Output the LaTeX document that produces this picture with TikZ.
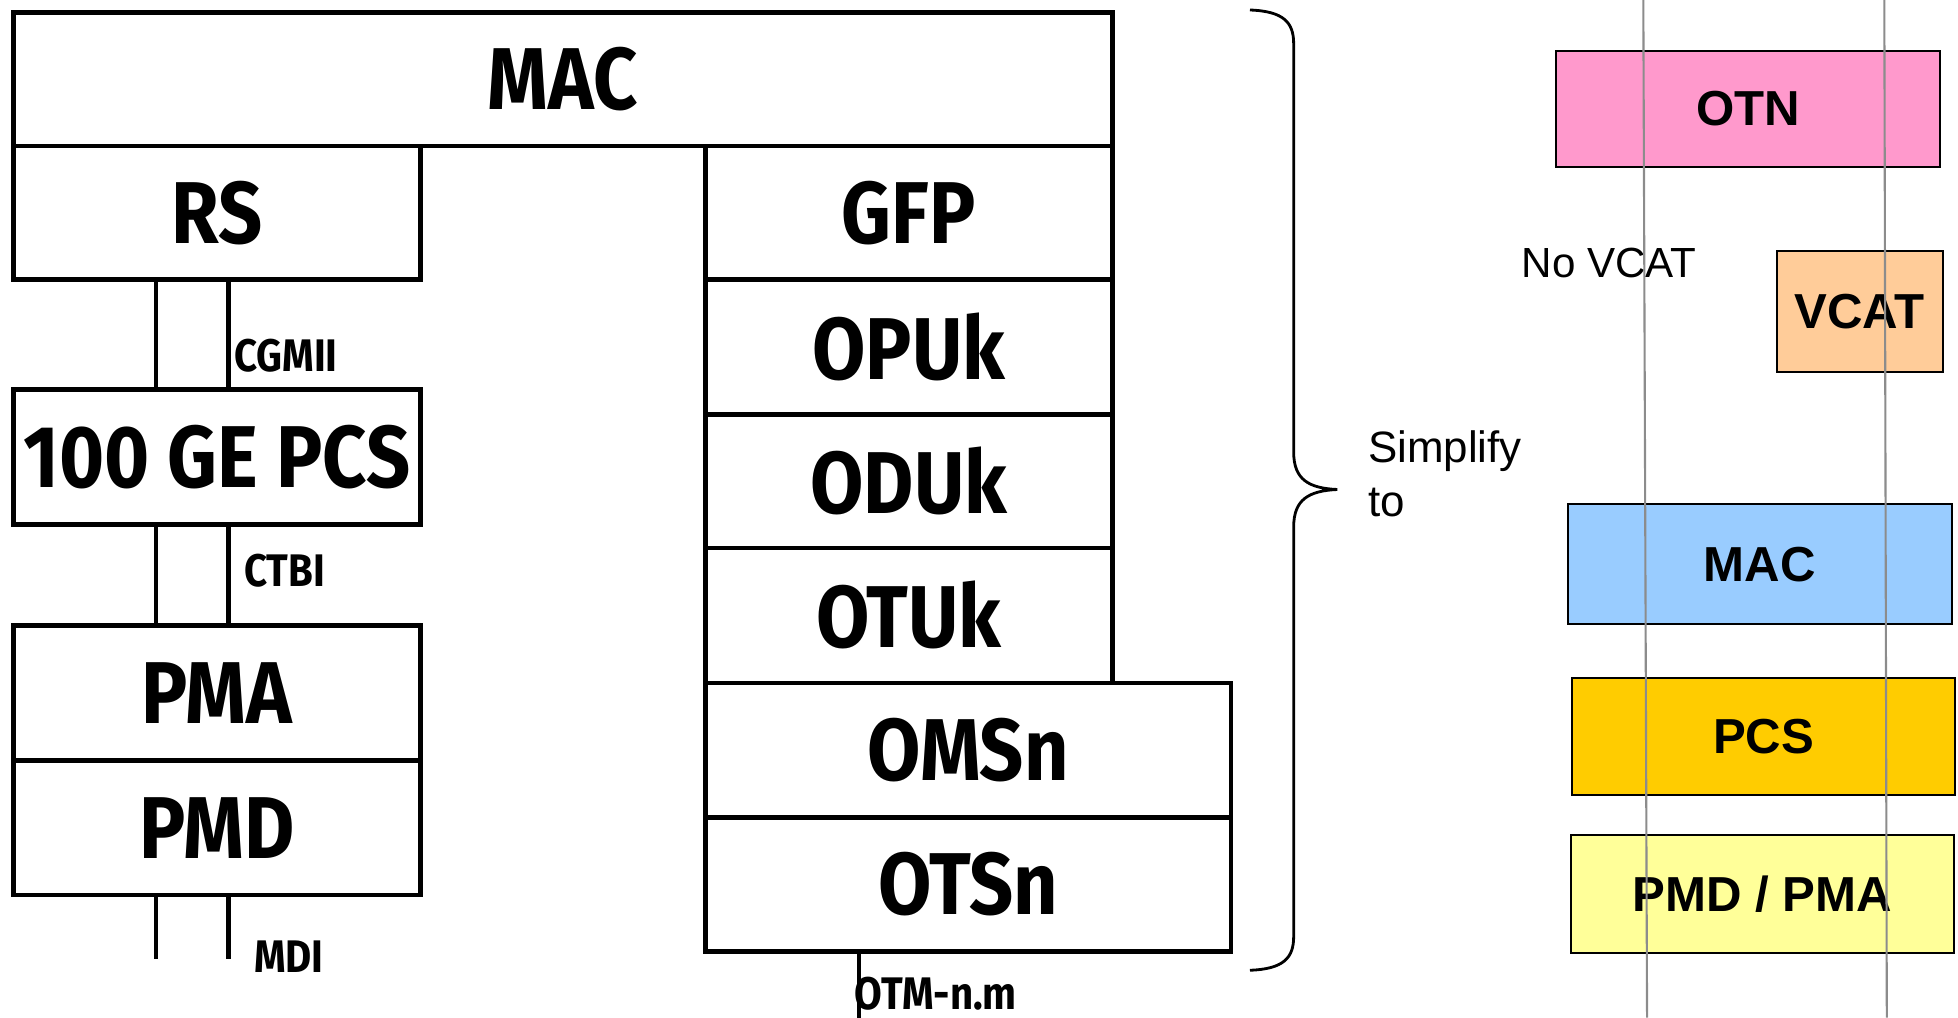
\documentclass[tikz,border=0pt]{standalone}
\usepackage{fontspec}
\setmainfont{Liberation Sans}
\newfontfamily\stackfont[FakeStretch=0.88]{Fira Sans}
\usepackage{xcolor}
\usetikzlibrary{positioning,calc}

\definecolor{otnpink}{HTML}{FF99CC}
\definecolor{vcatpeach}{HTML}{FFCC99}
\definecolor{macblue}{HTML}{99CCFF}
\definecolor{pcsgold}{HTML}{FFCC00}
\definecolor{pmdyellow}{HTML}{FFFF99}

\begin{document}
\begin{tikzpicture}[x=0.0125cm, y=-0.0125cm,
    layer/.style={draw, line width=1.3pt, inner sep=0pt, anchor=north west,
      font=\stackfont\bfseries\fontsize{25}{25}\selectfont},
    iface/.style={anchor=west, inner sep=0pt,
      font=\stackfont\bfseries\fontsize{13}{13}\selectfont},
    link/.style={line width=1.3pt},
    simple/.style={draw, line width=0.6pt, inner sep=0pt, anchor=north west,
      font=\bfseries\fontsize{14}{14}\selectfont},
    guide/.style={draw=gray!90, line width=0.6pt}]
    \def\u{0.0125cm}

    \useasboundingbox (0,0) rectangle (1568,815);

    % ethernet stack
    \node[layer, minimum width=880*\u, minimum height=107*\u] (mac) at (9,8) {MAC};
    \node[layer, minimum width=326*\u, minimum height=107*\u] (rs) at (9,115) {RS};
    \node[layer, minimum width=326*\u, minimum height=108*\u] (pcs) at (9,310) {100 GE PCS};
    \node[layer, minimum width=326*\u, minimum height=108*\u] (pma) at (9,499) {PMA};
    \node[layer, minimum width=326*\u, minimum height=108*\u] (pmd) at (9,607) {PMD};

    % otn stack
    \node[layer, minimum width=326*\u, minimum height=107*\u] (gfp) at (563,115) {GFP};
    \node[layer, minimum width=326*\u, minimum height=108*\u] (opuk) at (563,222) {OPUk};
    \node[layer, minimum width=326*\u, minimum height=107*\u] (oduk) at (563,330) {ODUk};
    \node[layer, minimum width=326*\u, minimum height=108*\u] (otuk) at (563,437) {OTUk};
    \node[layer, minimum width=421*\u, minimum height=108*\u] (omsn) at (563,545) {OMSn};
    \node[layer, minimum width=421*\u, minimum height=107*\u] (otsn) at (563,653) {OTSn};

    % interfaces
    \coordinate (la) at (125,0);
    \coordinate (lb) at (183,0);
    \coordinate (mdi) at (0,768);
    \coordinate (otm) at (688,815);

    \draw[link] (rs.south -| la) -- (pcs.north -| la);
    \draw[link] (rs.south -| lb) -- (pcs.north -| lb);
    \draw[link] (pcs.south -| la) -- (pma.north -| la);
    \draw[link] (pcs.south -| lb) -- (pma.north -| lb);
    \draw[link] (pmd.south -| la) -- (la |- mdi);
    \draw[link] (pmd.south -| lb) -- (lb |- mdi);
    \draw[link] (otsn.south -| otm) -- (otm);

    \node[iface] (cgmii) at (187,285) {CGMII};
    \node[iface] (ctbi) at (195,457) {CTBI};
    \node[iface] (mdilbl) at (203,766) {MDI};
    \node[iface] (otmlbl) at (684,796) {OTM-n.m};

    % brace
    \draw[line width=0.8pt] (1001,8) .. controls (1028,9) and (1036,18) .. (1036,35)
      -- (1036,362) .. controls (1036,384) and (1048,391) .. (1071,392)
      .. controls (1048,393) and (1036,400) .. (1036,422)
      -- (1036,750) .. controls (1036,767) and (1028,776) .. (1001,777);

    \node[anchor=north west, inner sep=0pt, align=left,
      font=\fontsize{12.5}{15.5}\selectfont] (simplify) at (1095,344) {Simplify\\to};

    % simplified stack
    \node[simple, fill=otnpink, minimum width=308*\u, minimum height=93*\u] (otn) at (1245,40) {OTN};
    \node[anchor=base west, inner sep=0pt, font=\fontsize{12}{14}\selectfont] (novcat) at (1218,222) {No VCAT};
    \node[simple, fill=vcatpeach, minimum width=133*\u, minimum height=97*\u] (vcat) at (1422,200) {VCAT};
    \node[simple, fill=macblue, minimum width=307*\u, minimum height=96*\u] (macs) at (1255,403) {MAC};
    \node[simple, fill=pcsgold, minimum width=307*\u, minimum height=94*\u] (pcss) at (1258,542) {PCS};
    \node[simple, fill=pmdyellow, minimum width=307*\u, minimum height=94*\u] (pmds) at (1257,668) {PMD / PMA};

    % guide lines
    \draw[guide] (1316,0) -- (1319,815);
    \draw[guide] (1509,0) -- (1511,815);

\end{tikzpicture}
\end{document}
